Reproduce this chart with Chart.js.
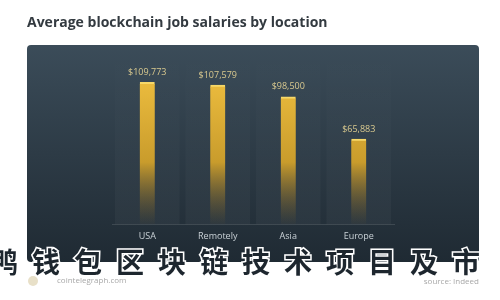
<!DOCTYPE html>
<html>
<head>
<meta charset="utf-8">
<script src="https://cdn.jsdelivr.net/npm/chart.js@4"></script>
<style>
  html, body { margin: 0; padding: 0; background: #fff; }
  #wrap { width: 500px; height: 300px; position: relative; }
</style>
</head>
<body>
<div id="wrap"><canvas id="barCanvas" width="500" height="300"></canvas></div>
<script>
const locations = ['USA', 'Remotely', 'Asia', 'Europe'];
const salaries = [109773, 107579, 98500, 65883];
const titleText = 'Average blockchain job salaries by location';
const overlayText = '鸭钱包区块链技术项目及市';
const siteText = 'cointelegraph.com';
const sourceText = 'source: Indeed';

const fmt = v => '$' + v.toLocaleString('en-US');

// panel, title, footer and the value labels
const decor = {
  id: 'decor',
  beforeDraw(chart) {
    const ctx = chart.ctx;
    ctx.save();
    ctx.fillStyle = '#fff';
    ctx.fillRect(0, 0, chart.width, chart.height);

    ctx.fillStyle = '#333a40';
    ctx.font = 'bold 14px "Open Sans"';
    ctx.textBaseline = 'middle';
    ctx.fillText(titleText, 27, 23);

    const g = ctx.createLinearGradient(0, 45, 0, 262);
    g.addColorStop(0, '#3b4c59');
    g.addColorStop(1, '#1f2a33');
    ctx.fillStyle = g;
    ctx.beginPath();
    ctx.roundRect(27, 45, 452, 217, 4);
    ctx.fill();

    // faint column bands
    const x = chart.scales.x;
    const area = chart.chartArea;
    const step = (area.right - area.left) / locations.length;
    locations.forEach((c, i) => {
      const cx = x.getPixelForValue(i);
      const bg = ctx.createLinearGradient(0, 50, 0, area.bottom);
      bg.addColorStop(0, 'rgba(255,255,255,0.0)');
      bg.addColorStop(1, 'rgba(255,255,255,0.035)');
      ctx.fillStyle = bg;
      ctx.fillRect(cx - step / 2 + 3, 50, step - 6, area.bottom - 50);
    });
    ctx.restore();
  },
  afterDraw(chart) {
    const ctx = chart.ctx;
    ctx.save();
    const meta = chart.getDatasetMeta(0);
    ctx.font = '9px "Open Sans"';
    ctx.fillStyle = '#d9c98f';
    ctx.textAlign = 'center';
    ctx.textBaseline = 'middle';
    meta.data.forEach((bar, i) => {
      ctx.fillText(fmt(salaries[i]), bar.x, bar.y - 10);
    });

    // overlay watermark
    ctx.textAlign = 'left';
    ctx.textBaseline = 'alphabetic';
    ctx.font = 'bold 28px "Noto Sans CJK SC"';
    ctx.letterSpacing = '14px';
    ctx.lineWidth = 3;
    ctx.strokeStyle = '#ffffff';
    ctx.strokeText(overlayText, -10, 273);
    ctx.fillStyle = '#1d262e';
    ctx.fillText(overlayText, -10, 273);
    ctx.letterSpacing = '0px';

    // footer
    ctx.fillStyle = '#e8e0c8';
    ctx.beginPath();
    ctx.arc(33, 281, 5, 0, Math.PI * 2);
    ctx.fill();
    ctx.font = '8px "Open Sans"';
    ctx.fillStyle = '#a8a8a8';
    ctx.textBaseline = 'middle';
    ctx.fillText(siteText, 57, 281);
    ctx.textAlign = 'right';
    ctx.fillText(sourceText, 479, 282);
    ctx.restore();
  }
};

new Chart(document.getElementById('barCanvas'), {
  type: 'bar',
  data: {
    labels: locations,
    datasets: [{
      data: salaries,
      barThickness: 15,
      backgroundColor(c) {
        const area = c.chart.chartArea;
        if (!area) return '#e0b030';
        const g = c.chart.ctx.createLinearGradient(0, area.top, 0, area.bottom);
        g.addColorStop(0, '#f0c040');
        g.addColorStop(0.6, '#c99c2c');
        g.addColorStop(1, 'rgba(120,95,40,0.05)');
        return g;
      },
      borderColor: '#f7d868',
      borderWidth: { top: 2, left: 0, right: 0, bottom: 0 },
      borderSkipped: false
    }]
  },
  options: {
    responsive: false,
    animation: false,
    layout: {
      padding: { left: 112, right: 106, top: 69, bottom: 51 }
    },
    scales: {
      y: {
        display: false,
        min: 0,
        max: 120000
      },
      x: {
        ticks: {
          color: '#c9d1d6',
          font: { family: 'Open Sans', size: 9 },
          padding: 7
        },
        grid: { display: false, drawTicks: false },
        border: { color: 'rgba(255,255,255,0.12)' }
      }
    },
    plugins: {
      legend: { display: false },
      tooltip: { enabled: false }
    }
  },
  plugins: [decor]
});
</script>
</body>
</html>
